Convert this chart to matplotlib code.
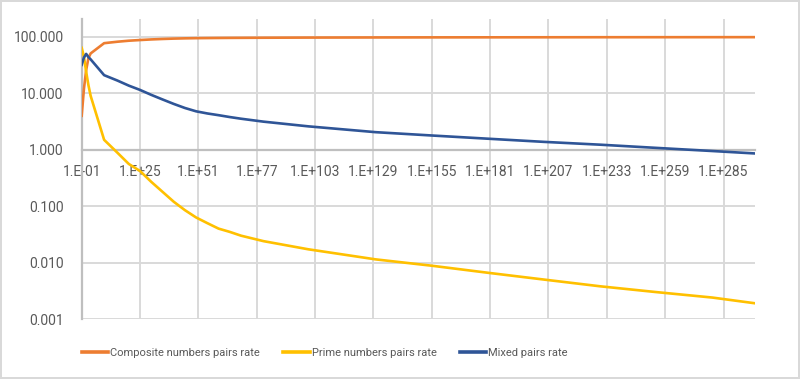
import numpy as np
import matplotlib
matplotlib.use("Agg")
import matplotlib.pyplot as plt
from matplotlib import font_manager
from matplotlib.ticker import FixedLocator, FixedFormatter, NullLocator

# exponent of the x category (1.E-01 ... 1.E+299)
exps = [-1, 0, 1, 2, 3, 9, 15, 20, 25, 30, 35, 40, 45, 50, 55, 60, 65, 70, 80,
        100, 130, 155, 180, 205, 230, 255, 280, 299]

composite = [4, 12, 26, 42, 51, 77.5, 82.3, 85.7, 88.1, 90.3, 92.0, 93.4, 94.4,
             95.1, 95.5, 95.9, 96.2, 96.4, 96.8, 97.4, 97.9, 98.2, 98.4, 98.6,
             98.8, 98.9, 99.0, 99.1]
prime = [64, 45, 24, 14, 9, 1.5, 0.88, 0.56, 0.42, 0.27, 0.18, 0.12, 0.085,
         0.063, 0.050, 0.040, 0.035, 0.030, 0.024, 0.0172, 0.0114, 0.0088,
         0.0066, 0.0050, 0.0038, 0.0030, 0.0024, 0.0019]
mixed = [32, 43, 50, 44, 40, 21, 16.8, 13.7, 11.5, 9.4, 7.8, 6.5, 5.5, 4.8,
         4.4, 4.1, 3.8, 3.55, 3.15, 2.6, 2.05, 1.79, 1.57, 1.38, 1.23, 1.08,
         0.95, 0.86]

tick_exps = list(range(-1, 299, 26))
tick_labels = ["1.E{:+03d}".format(e) for e in tick_exps]
y_ticks = [0.001, 0.01, 0.1, 1, 10, 100]

names = {f.name for f in font_manager.fontManager.ttflist}
tick_font = "Roboto" if "Roboto" in names else "DejaVu Sans"

grey = "#595959"
fig = plt.figure(figsize=(8, 3.79), dpi=100)
fig.patch.set_edgecolor("#d9d9d9")
fig.patch.set_linewidth(1.5)
ax = fig.add_axes([0.1021, 0.1583, 0.8416, 0.7916])

ax.plot(exps, composite, color="#ED7D31", lw=1.9, label="Composite numbers pairs rate", zorder=3)
ax.plot(exps, prime, color="#FFC000", lw=1.9, label="Prime numbers pairs rate", zorder=3)
ax.plot(exps, mixed, color="#2F5597", lw=1.9, label="Mixed pairs rate", zorder=3)

ax.set_yscale("log")
ax.set_ylim(0.001, 208)
ax.set_xlim(-1, 299)

ax.yaxis.set_major_locator(FixedLocator(y_ticks))
ax.yaxis.set_major_formatter(FixedFormatter(["%.3f" % v for v in y_ticks]))
ax.yaxis.set_minor_locator(NullLocator())
ax.xaxis.set_major_locator(FixedLocator(tick_exps))
ax.xaxis.set_major_formatter(FixedFormatter(tick_labels))

for v in y_ticks:
    ax.axhline(v, color="#d9d9d9", lw=1.4, zorder=1)
for e in tick_exps[1:]:
    ax.axvline(e, color="#d9d9d9", lw=1.4, zorder=1)

for s in ["top", "right"]:
    ax.spines[s].set_visible(False)
ax.spines["bottom"].set_position(("data", 1))
ax.spines["bottom"].set_color("#bfbfbf")
ax.spines["bottom"].set_linewidth(1.6)
ax.spines["left"].set_color("#bfbfbf")
ax.spines["left"].set_linewidth(1.6)
ax.spines["bottom"].set_zorder(2)

ax.tick_params(axis="x", length=0, pad=11, labelsize=10, labelcolor=grey)
ax.tick_params(axis="y", length=0, pad=13, labelsize=10, labelcolor=grey)
for lab in ax.get_xticklabels() + ax.get_yticklabels():
    lab.set_family(tick_font)

leg = fig.legend(loc="center left", bbox_to_anchor=(0.1025, 1 - 353 / 379), ncol=3,
                 frameon=False, prop={"family": tick_font, "size": 8.0},
                 handlelength=2.35, handletextpad=0.2, columnspacing=2.1,
                 borderpad=0, borderaxespad=0)
for t in leg.get_texts():
    t.set_color(grey)
for h in leg.get_lines():
    h.set_linewidth(2.6)

fig.savefig("out.png", dpi=100, edgecolor=fig.get_edgecolor())
